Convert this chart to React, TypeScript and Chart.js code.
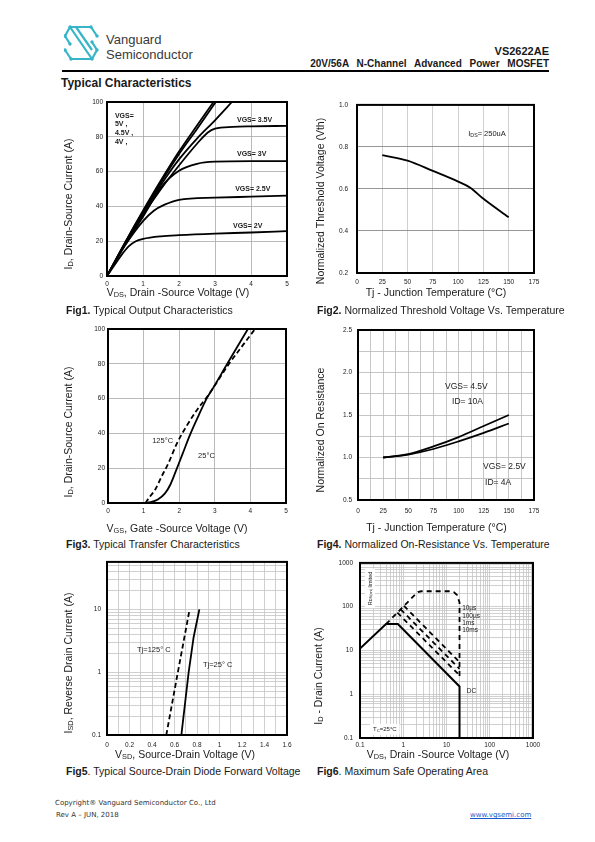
import React, { useEffect, useRef } from 'react';
import { Chart, registerables } from 'chart.js';

Chart.register(...registerables);

type Pt = [number, number];
type Seg = { t: string; sub?: boolean };

const SANS = "'Liberation Sans', Arial, Helvetica, sans-serif";
const NARROW = "'Liberation Sans Narrow', 'Liberation Sans', Arial, sans-serif";
const INK = '#1a1a1a';

// ---------------- Fig1: Typical Output Characteristics ----------------
const fig1XGrid = [0, 1, 2, 3, 4, 5];
const fig1YGrid = [0, 20, 40, 60, 80, 100];
const fig1Vgs5V: Pt[] = [[0, 0], [0.5, 19.2], [1, 37.5], [1.5, 55], [2, 71.5], [2.5, 86.5], [2.96, 100]];
const fig1Vgs45V: Pt[] = [[0, 0], [0.5, 19], [1, 37], [1.5, 54], [2, 70], [2.5, 84.5], [3.02, 100]];
const fig1Vgs4V: Pt[] = [[0, 0], [0.5, 18.6], [1, 36.2], [1.5, 52.5], [2, 67], [2.5, 79], [3, 89.5], [3.47, 100]];
const fig1Vgs35V: Pt[] = [[0, 0], [0.5, 18.3], [1, 35], [1.5, 50], [2, 63.5], [2.5, 76], [2.8, 82.5], [3, 84.7], [3.5, 85.7], [4, 86], [5, 86.3]];
const fig1Vgs3V: Pt[] = [[0, 0], [0.5, 18], [1, 34], [1.5, 51], [2, 60.5], [2.5, 64.5], [3, 65.7], [4, 66], [5, 66]];
const fig1Vgs25V: Pt[] = [[0, 0], [0.5, 17.5], [1, 31.5], [1.3, 37.5], [1.6, 41], [2, 43.8], [3, 45], [4, 45.6], [5, 46.2]];
const fig1Vgs2V: Pt[] = [[0, 0], [0.2, 6], [0.4, 12], [0.6, 17], [0.8, 20], [1, 21.3], [1.5, 22.8], [2, 23.5], [3, 24.4], [4, 25], [5, 25.8]];

// ---------------- Fig2: Normalized Threshold Voltage ----------------
const fig2XGrid = [0, 25, 50, 75, 100, 125, 150, 175];
const fig2YGrid = [0.2, 0.4, 0.6, 0.8, 1.0];
const fig2Vth: Pt[] = [[25, 0.761], [50, 0.735], [75, 0.686], [100, 0.635], [112, 0.606], [125, 0.553], [150, 0.465]];

// ---------------- Fig3: Transfer Characteristics ----------------
const fig3XGrid = [0, 1, 2, 3, 4, 5];
const fig3YGrid = [0, 20, 40, 60, 80, 100];
const fig3T25: Pt[] = [[1.0, 0], [1.2, 0.5], [1.4, 2], [1.6, 5.5], [1.75, 10.5], [1.9, 18], [2.1, 28.5], [2.3, 39], [2.55, 50.5], [2.77, 60], [2.95, 66], [3.35, 80], [3.93, 100]];
const fig3T125: Pt[] = [[1.05, 0], [1.17, 3.5], [1.32, 7.5], [1.5, 15], [1.7, 23], [1.93, 34], [2.2, 44], [2.5, 53.5], [2.8, 61.5], [2.95, 66], [3.4, 80], [3.8, 91], [4.13, 100]];

// ---------------- Fig4: Normalized On-Resistance ----------------
const fig4XGrid = [0, 12.5, 25, 37.5, 50, 62.5, 75, 87.5, 100, 112.5, 125, 137.5, 150, 162.5, 175];
const fig4XLabels = [0, 25, 50, 75, 100, 125, 150, 175];
const fig4YGrid = [0.5, 0.75, 1.0, 1.25, 1.5, 1.75, 2.0, 2.25, 2.5];
const fig4YLabels = [0.5, 1.0, 1.5, 2.0, 2.5];
const fig4Temp = [25, 50, 75, 100, 125, 150];
const fig4Vgs45: number[] = [1.0, 1.04, 1.13, 1.24, 1.37, 1.5];
const fig4Vgs25: number[] = [1.0, 1.035, 1.1, 1.19, 1.29, 1.4];

// ---------------- Fig5: Diode Forward Voltage ----------------
const fig5XGrid = [0, 0.1, 0.2, 0.3, 0.4, 0.5, 0.6, 0.7, 0.8, 0.9, 1.0, 1.1, 1.2, 1.3, 1.4, 1.5, 1.6];
const fig5XLabels = [0, 0.2, 0.4, 0.6, 0.8, 1.0, 1.2, 1.4, 1.6];
const fig5YDecades = [0.1, 1, 10];
const fig5T25: Pt[] = [[0.661, 0.1], [0.726, 1], [0.77, 3.6], [0.821, 10]];
const fig5T125: Pt[] = [[0.527, 0.1], [0.63, 1], [0.732, 9.5]];

// ---------------- Fig6: Safe Operating Area ----------------
const fig6Decades = [0.1, 1, 10, 100, 1000];
const fig6Dc: Pt[] = [[0.1, 11], [0.4, 40], [0.75, 40], [20, 1.5], [20, 0.1]];
const fig6P10us: Pt[] = [[0.4, 40], [1.9, 190], [2.2, 215], [2.6, 225], [12, 225], [15, 212], [17.5, 185], [20, 125], [20, 2.6]];
const fig6P100us: Pt[] = [[1.04, 104], [20, 5.4]];
const fig6P1ms: Pt[] = [[0.87, 87], [20, 3.8]];
const fig6P10ms: Pt[] = [[0.73, 73], [20, 2.7]];

const MANT = [1, 2, 3, 4, 5, 6, 7, 8, 9];
function logGrid(decades: number[], max: number): number[] {
  const out: number[] = [];
  for (const d of decades) for (const m of MANT) { const v = d * m; if (v <= max * (1 + 1e-9)) out.push(v); }
  return out;
}

interface Axis { type: 'linear' | 'logarithmic'; min: number; max: number; grid: number[]; labels: number[]; fmt: (v: number) => string; color: string; gap: number; }
interface Note { x: number; y: number; text: Seg[]; size: number; bold?: boolean; rotate?: boolean; box?: boolean; }
interface Series { pts: Pt[]; dash?: number[]; smooth?: boolean; width?: number; }
interface Fig {
  canvas: [number, number, number, number];
  plot: [number, number, number, number];
  x: Axis; y: Axis; series: Series[];
  xTitle: Seg[]; xTitleAt: [number, number];
  yTitle: Seg[]; yTitleAt: [number, number];
  notes: Note[];
}

const zip = (xs: number[], ys: number[]): Pt[] => xs.map((x, i) => [x, ys[i]]);
const plain = (v: number) => String(Math.round(v * 1000) / 1000);
const fix1 = (v: number) => v.toFixed(1);
const S = (t: string): Seg[] => [{ t }];

const figs: Fig[] = [
  {
    canvas: [50, 92, 250, 215], plot: [107, 102, 287, 276],
    x: { type: 'linear', min: 0, max: 5, grid: fig1XGrid, labels: fig1XGrid, fmt: plain, color: '#a8a8a8', gap: 4.4 },
    y: { type: 'linear', min: 0, max: 100, grid: fig1YGrid, labels: fig1YGrid, fmt: plain, color: '#a8a8a8', gap: 4 },
    series: [fig1Vgs5V, fig1Vgs45V, fig1Vgs4V, fig1Vgs35V, fig1Vgs3V, fig1Vgs25V, fig1Vgs2V].map((pts) => ({ pts, smooth: true })),
    xTitle: [{ t: 'V' }, { t: 'DS', sub: true }, { t: ', Drain -Source Voltage (V)' }], xTitleAt: [178, 292.5],
    yTitle: [{ t: 'I' }, { t: 'D', sub: true }, { t: ', Drain-Source Current (A)' }], yTitleAt: [68, 204],
    notes: [
      { x: 0.22, y: 92.5, text: S('VGS='), size: 7, bold: true },
      { x: 0.22, y: 87.6, text: S('5V ,'), size: 7, bold: true },
      { x: 0.22, y: 82.5, text: S('4.5V ,'), size: 7, bold: true },
      { x: 0.22, y: 77.3, text: S('4V ,'), size: 7, bold: true },
      { x: 3.61, y: 90, text: S('VGS= 3.5V'), size: 7, bold: true },
      { x: 3.61, y: 70.5, text: S('VGS= 3V'), size: 7, bold: true },
      { x: 3.56, y: 50.2, text: S('VGS= 2.5V'), size: 7, bold: true },
      { x: 3.5, y: 29.3, text: S('VGS= 2V'), size: 7, bold: true },
    ],
  },
  {
    canvas: [305, 92, 255, 215], plot: [357, 103, 534, 273],
    x: { type: 'linear', min: 0, max: 175, grid: fig2XGrid, labels: fig2XGrid, fmt: plain, color: '#c4c4c4', gap: 5.8 },
    y: { type: 'linear', min: 0.2, max: 1.0, grid: fig2YGrid, labels: fig2YGrid, fmt: fix1, color: '#7c7c7c', gap: 9 },
    series: [{ pts: fig2Vth, smooth: true }],
    xTitle: S('Tj - Junction Temperature (°C)'), xTitleAt: [436, 292.5],
    yTitle: S('Normalized Threshold Voltage (Vth)'), yTitleAt: [320, 201],
    notes: [{ x: 110, y: 0.864, text: [{ t: 'I' }, { t: 'DS', sub: true }, { t: '= 250uA' }], size: 7.5 }],
  },
  {
    canvas: [50, 318, 250, 220], plot: [108, 329, 286, 503],
    x: { type: 'linear', min: 0, max: 5, grid: fig3XGrid, labels: fig3XGrid, fmt: plain, color: '#a8a8a8', gap: 4.8 },
    y: { type: 'linear', min: 0, max: 100, grid: fig3YGrid, labels: fig3YGrid, fmt: plain, color: '#a8a8a8', gap: 3 },
    series: [{ pts: fig3T25, smooth: true }, { pts: fig3T125, smooth: true, dash: [5, 3] }],
    xTitle: [{ t: 'V' }, { t: 'GS', sub: true }, { t: ', Gate -Source Voltage (V)' }], xTitleAt: [177, 528],
    yTitle: [{ t: 'I' }, { t: 'D', sub: true }, { t: ', Drain-Source Current (A)' }], yTitleAt: [68, 432],
    notes: [
      { x: 1.24, y: 35.8, text: S('125°C'), size: 7.5 },
      { x: 2.53, y: 27.2, text: S('25°C'), size: 7.5 },
    ],
  },
  {
    canvas: [305, 318, 255, 220], plot: [358, 330, 534, 500],
    x: { type: 'linear', min: 0, max: 175, grid: fig4XGrid, labels: fig4XLabels, fmt: plain, color: '#b8b8b8', gap: 7.8 },
    y: { type: 'linear', min: 0.5, max: 2.5, grid: fig4YGrid, labels: fig4YLabels, fmt: fix1, color: '#b8b8b8', gap: 6 },
    series: [{ pts: zip(fig4Temp, fig4Vgs45), smooth: true }, { pts: zip(fig4Temp, fig4Vgs25), smooth: true }],
    xTitle: S('Tj - Junction Temperature (°C)'), xTitleAt: [436.5, 527],
    yTitle: S('Normalized On Resistance'), yTitleAt: [320, 430],
    notes: [
      { x: 86.5, y: 1.845, text: S('VGS= 4.5V'), size: 8.5 },
      { x: 93.5, y: 1.665, text: S('ID= 10A'), size: 8.5 },
      { x: 124.3, y: 0.9, text: S('VGS= 2.5V'), size: 8.5 },
      { x: 126.3, y: 0.71, text: S('ID= 4A'), size: 8.5 },
    ],
  },
  {
    canvas: [50, 552, 250, 212], plot: [107, 560, 287, 735],
    x: { type: 'linear', min: 0, max: 1.6, grid: fig5XGrid, labels: fig5XLabels, fmt: plain, color: '#c4c4c4', gap: 6.8 },
    y: { type: 'logarithmic', min: 0.1, max: 57, grid: logGrid(fig5YDecades, 57), labels: fig5YDecades, fmt: plain, color: '#c4c4c4', gap: 6 },
    series: [{ pts: fig5T25 }, { pts: fig5T125, dash: [5, 3] }],
    xTitle: [{ t: 'V' }, { t: 'SD', sub: true }, { t: ', Source-Drain Voltage (V)' }], xTitleAt: [185, 754],
    yTitle: [{ t: 'I' }, { t: 'SD', sub: true }, { t: ', Reverse Drain Current (A)' }], yTitleAt: [68, 663],
    notes: [
      { x: 0.267, y: 2.33, text: S('Tj=125° C'), size: 7.5 },
      { x: 0.853, y: 1.35, text: S('Tj=25° C'), size: 7.5 },
    ],
  },
  {
    canvas: [305, 552, 255, 212], plot: [360, 562, 533, 738],
    x: { type: 'logarithmic', min: 0.1, max: 1000, grid: logGrid(fig6Decades, 1000), labels: fig6Decades, fmt: plain, color: '#c4c4c4', gap: 3.8 },
    y: { type: 'logarithmic', min: 0.1, max: 1000, grid: logGrid(fig6Decades, 1000), labels: fig6Decades, fmt: plain, color: '#c4c4c4', gap: 7 },
    series: [
      { pts: fig6Dc, width: 2 },
      { pts: fig6P10us, dash: [5, 4] },
      { pts: fig6P100us, dash: [5, 4] },
      { pts: fig6P1ms, dash: [5, 4] },
      { pts: fig6P10ms, dash: [5, 4] },
    ],
    xTitle: [{ t: 'V' }, { t: 'DS', sub: true }, { t: ', Drain -Source Voltage (V)' }], xTitleAt: [438, 754],
    yTitle: [{ t: 'I' }, { t: 'D', sub: true }, { t: ' - Drain Current (A)' }], yTitleAt: [318, 676],
    notes: [
      { x: 23, y: 93, text: S('10µs'), size: 6.5 },
      { x: 23, y: 63, text: S('100µs'), size: 6.5 },
      { x: 23, y: 44, text: S('1ms'), size: 6.5 },
      { x: 23, y: 30, text: S('10ms'), size: 6.5 },
      { x: 29.5, y: 1.23, text: S('DC'), size: 6.5 },
      { x: 0.2, y: 0.158, text: [{ t: 'T' }, { t: 'C', sub: true }, { t: '=25°C' }], size: 6, box: true },
      { x: 0.17, y: 262, text: [{ t: 'R' }, { t: 'DS(on)', sub: true }, { t: ' limited' }], size: 5.5, rotate: true, box: true },
    ],
  },
];

function drawRich(ctx: CanvasRenderingContext2D, segs: Seg[], x: number, y: number, size: number, rot: number,
  align: 'left' | 'center', bold: boolean, family: string, box: boolean) {
  ctx.save();
  ctx.translate(x, y);
  ctx.rotate(rot);
  const w = bold ? 'bold ' : '';
  const fonts = segs.map((s) => `${w}${s.sub ? size * 0.7 : size}px ${family}`);
  const widths = segs.map((s, i) => { ctx.font = fonts[i]; return ctx.measureText(s.t).width; });
  const total = widths.reduce((p, c) => p + c, 0);
  let cx = align === 'center' ? -total / 2 : 0;
  if (box) { ctx.fillStyle = '#fff'; ctx.fillRect(cx - 3, -size * 0.9, total + 6, size * 1.8); }
  ctx.fillStyle = INK;
  ctx.textBaseline = 'alphabetic';
  ctx.textAlign = 'left';
  const base = size * 0.36;
  segs.forEach((s, i) => {
    ctx.font = fonts[i];
    ctx.fillText(s.t, cx, base + (s.sub ? size * 0.1 : 0));
    cx += widths[i];
  });
  ctx.restore();
}

function scaleOpts(a: Axis, isX: boolean, size: number) {
  return {
    type: a.type, min: a.min, max: a.max, position: isX ? 'bottom' : 'left',
    afterBuildTicks: (s: any) => { s.ticks = a.grid.map((v) => ({ value: v })); },
    afterFit: (s: any) => { if (isX) s.height = size; else s.width = size; },
    grid: { color: a.color, lineWidth: 0.8, drawTicks: false },
    border: { display: false },
    ticks: {
      autoSkip: false, maxRotation: 0, minRotation: 0, padding: a.gap, color: INK,
      font: { family: NARROW, size: 6.5 },
      callback: (v: any) => {
        const n = Number(v);
        return a.labels.some((l) => Math.abs(l - n) <= Math.abs(l) * 1e-9 + 1e-12) ? a.fmt(n) : '';
      },
    },
  };
}

function FigChart({ fig }: { fig: Fig }) {
  const ref = useRef<HTMLCanvasElement>(null);
  const [cl, ct, cw, ch] = fig.canvas;
  useEffect(() => {
    const [pl, pt, pr, pb] = fig.plot;
    const WY = 22, HX = 14;
    const padding = { left: pl - cl - WY, top: pt - ct, right: cl + cw - pr, bottom: ct + ch - pb - HX };
    const overlay = {
      id: 'overlay',
      afterDatasetsDraw(chart: any) {
        const ctx = chart.ctx as CanvasRenderingContext2D;
        const a = chart.chartArea;
        const sx = chart.scales.x, sy = chart.scales.y;
        for (const n of fig.notes) {
          const px = sx.getPixelForValue(n.x), py = sy.getPixelForValue(n.y);
          drawRich(ctx, n.text, px, py, n.size, n.rotate ? -Math.PI / 2 : 0, n.rotate ? 'center' : 'left', !!n.bold, NARROW, !!n.box);
        }
        ctx.save();
        ctx.strokeStyle = '#000';
        ctx.lineWidth = 2;
        ctx.strokeRect(a.left, a.top, a.right - a.left, a.bottom - a.top);
        ctx.restore();
        drawRich(ctx, fig.xTitle, fig.xTitleAt[0] - cl, fig.xTitleAt[1] - ct, 10.5, 0, 'center', false, SANS, false);
        drawRich(ctx, fig.yTitle, fig.yTitleAt[0] - cl, fig.yTitleAt[1] - ct, 10.5, -Math.PI / 2, 'center', false, SANS, false);
      },
    };
    const chart = new Chart(ref.current as HTMLCanvasElement, {
      type: 'line',
      data: {
        datasets: fig.series.map((s) => ({
          data: s.pts.map(([x, y]) => ({ x, y })),
          borderColor: '#000',
          borderWidth: s.width ?? 1.8,
          borderDash: s.dash ?? [],
          pointRadius: 0,
          fill: false,
          tension: 0,
          cubicInterpolationMode: s.smooth ? 'monotone' : 'default',
        })),
      },
      options: {
        animation: false,
        responsive: false,
        maintainAspectRatio: false,
        devicePixelRatio: 1,
        layout: { padding },
        plugins: { legend: { display: false }, tooltip: { enabled: false } },
        scales: { x: scaleOpts(fig.x, true, HX), y: scaleOpts(fig.y, false, WY) } as any,
      },
      plugins: [overlay],
    } as any);
    return () => chart.destroy();
  }, []);
  return <canvas ref={ref} width={cw} height={ch} style={{ position: 'absolute', left: cl, top: ct, width: cw, height: ch }} />;
}

function Logo() {
  const c = '#36b5c8';
  const dots: Pt[] = [[6, 4], [27, 4], [33, 13], [1, 13], [6, 21], [28, 36], [7, 36], [1, 27], [33, 27], [28, 19]];
  return (
    <svg width={35} height={40} viewBox="0 0 35 40" style={{ position: 'absolute', left: 64, top: 23 }}>
      <g fill="none" stroke={c} strokeWidth={2.2} strokeLinejoin="round">
        <path d="M6 4 L27 4 L33 13" />
        <path d="M6 4 L1 13 L6 21" />
        <path d="M6 4 L28 36" />
        <path d="M12 4 L28 27" />
        <path d="M28 36 L7 36 L1 27" />
        <path d="M28 36 L33 27 L28 19" />
      </g>
      {dots.map(([x, y], i) => <circle key={i} cx={x} cy={y} r={1.7} fill={c} />)}
    </svg>
  );
}

const captions: { left: number; cy: number; b: string; rest: string }[] = [
  { left: 66, cy: 310, b: 'Fig1.', rest: ' Typical Output Characteristics' },
  { left: 317, cy: 310, b: 'Fig2.', rest: ' Normalized Threshold Voltage Vs. Temperature' },
  { left: 66, cy: 544, b: 'Fig3.', rest: ' Typical Transfer Characteristics' },
  { left: 317, cy: 544, b: 'Fig4.', rest: ' Normalized On-Resistance Vs. Temperature' },
  { left: 66, cy: 771, b: 'Fig5', rest: '. Typical Source-Drain Diode Forward Voltage' },
  { left: 317, cy: 771, b: 'Fig6', rest: '. Maximum Safe Operating Area' },
];

export default function App() {
  const abs = (left: number, top: number, extra: React.CSSProperties = {}): React.CSSProperties =>
    ({ position: 'absolute', left, top, whiteSpace: 'nowrap', ...extra });
  return (
    <div style={{ position: 'absolute', left: 0, top: 0, width: 595, height: 842, background: '#fff', fontFamily: SANS, color: INK, overflow: 'hidden' }}>
      <Logo />
      <div style={abs(106, 33, { fontSize: 13, lineHeight: '13px', color: '#3a3a3a' })}>Vanguard</div>
      <div style={abs(106, 47.5, { fontSize: 13, lineHeight: '13px', color: '#3a3a3a' })}>Semiconductor</div>
      <div style={{ position: 'absolute', right: 46, top: 45.5, fontSize: 11, lineHeight: '11px', fontWeight: 'bold', whiteSpace: 'nowrap' }}>VS2622AE</div>
      <div style={{ position: 'absolute', right: 46, top: 59, fontSize: 10, lineHeight: '10px', fontWeight: 'bold', wordSpacing: 5, whiteSpace: 'nowrap' }}>20V/56A N-Channel Advanced Power MOSFET</div>
      <div style={abs(62, 70, { width: 487, height: 1.5, background: '#000' })} />
      <div style={abs(61, 76.5, { fontSize: 12, lineHeight: '12px', fontWeight: 'bold' })}>Typical Characteristics</div>
      {figs.map((f, i) => <FigChart key={i} fig={f} />)}
      {captions.map((c, i) => (
        <div key={i} style={abs(c.left, c.cy - 5.25, { fontSize: 10.5, lineHeight: '10.5px' })}><b>{c.b}</b>{c.rest}</div>
      ))}
      <div style={abs(55, 800, { fontSize: 7, lineHeight: '7px', fontFamily: "'DejaVu Sans', Verdana, sans-serif", color: '#333' })}>Copyright® Vanguard Semiconductor Co., Ltd</div>
      <div style={abs(56, 812, { fontSize: 7, lineHeight: '7px', fontFamily: "'DejaVu Sans', Verdana, sans-serif", color: '#333' })}>Rev A – JUN, 2018</div>
      <div style={abs(470, 812, { fontSize: 7, lineHeight: '7px', fontFamily: "'DejaVu Sans', Verdana, sans-serif", color: '#1a56c8', textDecoration: 'underline' })}>www.vgsemi.com</div>
    </div>
  );
}
